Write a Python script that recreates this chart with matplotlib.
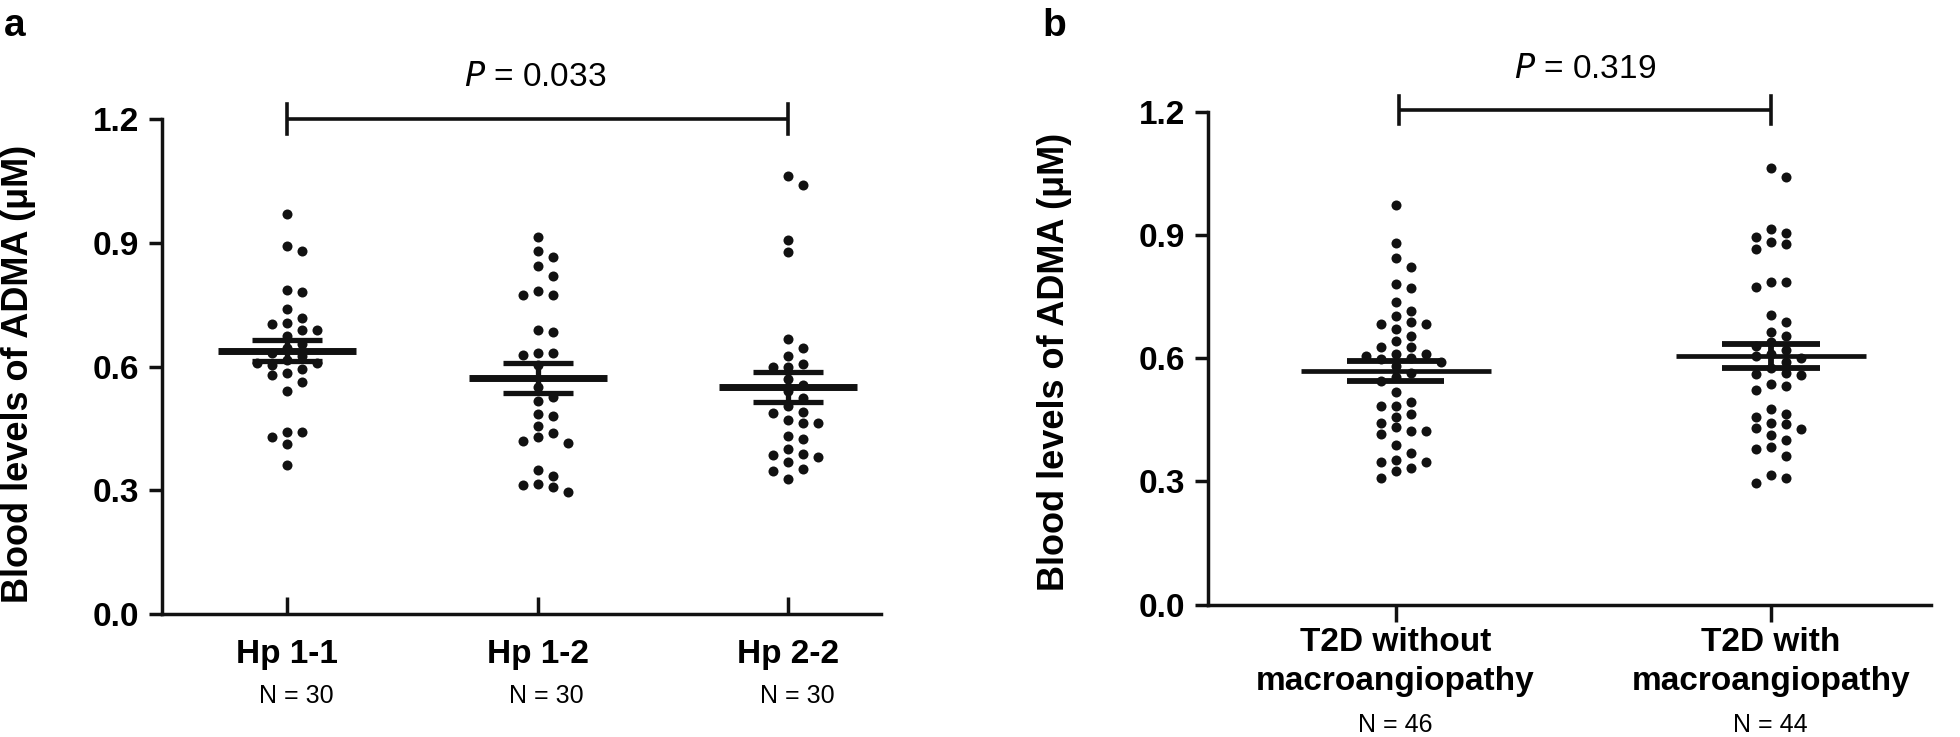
import numpy as np
import matplotlib
matplotlib.use('Agg')
import matplotlib.pyplot as plt

plt.rcParams['font.family'] = ['Liberation Sans', 'DejaVu Sans']

# ---- data ----
hp_groups = ['Hp 1-1', 'Hp 1-2', 'Hp 2-2']
hp_n = ['N = 30', 'N = 30', 'N = 30']
hp11 = [0.971, 0.893, 0.880, 0.786, 0.780, 0.739, 0.717, 0.706, 0.703, 0.689,
        0.689, 0.675, 0.655, 0.645, 0.632, 0.625, 0.615, 0.610, 0.608, 0.605,
        0.595, 0.585, 0.580, 0.563, 0.540, 0.442, 0.442, 0.429, 0.413, 0.362]
hp12 = [0.914, 0.881, 0.867, 0.843, 0.821, 0.784, 0.773, 0.773, 0.689, 0.685,
        0.633, 0.633, 0.628, 0.605, 0.550, 0.526, 0.516, 0.484, 0.481, 0.457,
        0.439, 0.429, 0.419, 0.416, 0.349, 0.334, 0.316, 0.312, 0.308, 0.295]
hp22 = [1.062, 1.040, 0.907, 0.878, 0.667, 0.646, 0.627, 0.607, 0.598, 0.598,
        0.570, 0.555, 0.542, 0.525, 0.505, 0.491, 0.488, 0.470, 0.464, 0.464,
        0.431, 0.425, 0.401, 0.388, 0.386, 0.380, 0.368, 0.351, 0.347, 0.327]
p_hp = '0.033'

t2d_groups = ['T2D without\nmacroangiopathy', 'T2D with\nmacroangiopathy']
t2d_n = ['N = 46', 'N = 44']
t2d_without = [0.973, 0.881, 0.845, 0.823, 0.780, 0.772, 0.738, 0.715, 0.702, 0.689,
               0.684, 0.684, 0.671, 0.654, 0.643, 0.628, 0.628, 0.610, 0.610, 0.605,
               0.600, 0.598, 0.590, 0.580, 0.565, 0.555, 0.545, 0.517, 0.493, 0.484,
               0.484, 0.463, 0.457, 0.443, 0.432, 0.422, 0.422, 0.415, 0.389, 0.370,
               0.352, 0.347, 0.347, 0.332, 0.326, 0.308]
t2d_with = [1.063, 1.041, 0.915, 0.906, 0.896, 0.883, 0.877, 0.867, 0.786, 0.786,
            0.773, 0.706, 0.689, 0.665, 0.654, 0.640, 0.630, 0.620, 0.610, 0.605,
            0.600, 0.590, 0.575, 0.565, 0.562, 0.558, 0.538, 0.532, 0.522, 0.477,
            0.465, 0.457, 0.441, 0.439, 0.430, 0.428, 0.413, 0.400, 0.384, 0.378,
            0.363, 0.315, 0.309, 0.295]
p_t2d = '0.319'

yticks = [0.0, 0.3, 0.6, 0.9, 1.2]
INK = '#111111'


def swarm_columns(values, ax, min_gap_px=10):
    """Grid-based swarm: each point goes to the nearest free column."""
    bbox = ax.get_window_extent()
    y0, y1 = ax.get_ylim()
    px_per_unit = bbox.height / (y1 - y0)
    candidates = [0]
    for j in range(1, 20):
        candidates += [j, -j]
    placed = []
    cols = np.zeros(len(values))
    for i in np.argsort(values)[::-1]:
        ypx = values[i] * px_per_unit
        for c in candidates:
            if all(not (pc == c and abs(py - ypx) < min_gap_px) for pc, py in placed):
                break
        placed.append((c, ypx))
        cols[i] = c
    return cols


def style_axes(ax, xin):
    for s in ['top', 'right']:
        ax.spines[s].set_visible(False)
    for s in ['left', 'bottom']:
        ax.spines[s].set_linewidth(2.5)
        ax.spines[s].set_color(INK)
    ax.set_ylim(0, 1.2)
    ax.set_yticks(yticks)
    ax.set_yticklabels([f'{v:.1f}' for v in yticks], fontsize=24, fontweight='bold')
    ax.tick_params(axis='y', direction='out', length=9.5, width=2.5, pad=7, color=INK)
    ax.tick_params(axis='x', direction='in' if xin else 'out', length=12, width=2.5,
                   color=INK, labelbottom=False)


def draw_group(ax, x, values, step_px, mean_hw, cap_hw, mean_lw, cap_lw):
    v = np.asarray(values)
    cols = swarm_columns(v, ax)
    bbox = ax.get_window_extent()
    xl = ax.get_xlim()
    step = step_px * (xl[1] - xl[0]) / bbox.width
    ax.scatter(x + cols * step, v, s=52, color=INK, linewidths=0, zorder=3, clip_on=False)
    m = v.mean()
    sem = v.std(ddof=1) / np.sqrt(len(v))
    ax.hlines(m, x - mean_hw, x + mean_hw, color=INK, lw=mean_lw, zorder=4)
    ax.hlines([m - sem, m + sem], x - cap_hw, x + cap_hw, color=INK, lw=cap_lw, zorder=4)
    ax.vlines(x, m - sem, m + sem, color=INK, lw=cap_lw, zorder=4)


def bracket(ax, x0, x1, y, h):
    ax.plot([x0, x1], [y, y], color=INK, lw=2.6, clip_on=False, solid_capstyle='butt')
    for xx in (x0, x1):
        ax.plot([xx, xx], [y - h, y + h], color=INK, lw=2.6, clip_on=False)


fig = plt.figure(figsize=(19.6, 7.37), dpi=100)

# ---- panel a ----
ax1 = fig.add_axes([162 / 1960, 123 / 737, 719 / 1960, 494.7 / 737])
ax1.set_xlim(-0.5, 2.37)
style_axes(ax1, xin=True)
ax1.set_xticks(range(len(hp_groups)))
for i, vals in enumerate([hp11, hp12, hp22]):
    draw_group(ax1, i, vals, 15, 0.275, 0.14, 5.0, 3.8)
    ax1.text(i, -0.081, hp_groups[i], transform=ax1.get_xaxis_transform(),
             ha='center', va='center', fontsize=24, fontweight='bold')
    ax1.text(i + 0.035, -0.166, hp_n[i], transform=ax1.get_xaxis_transform(),
             ha='center', va='center', fontsize=18)
bracket(ax1, 0, 2, 1.2, 0.036)
fig.text(535 / 1960, 1 - 77 / 737, r'$\it{P}$ = ' + p_hp, ha='center', va='center',
         fontsize=24)

# ---- panel b ----
ax2 = fig.add_axes([1208 / 1960, 132.4 / 737, 723 / 1960, 492.8 / 737])
ax2.set_xlim(-0.5, 1.427)
style_axes(ax2, xin=False)
ax2.set_xticks(range(len(t2d_groups)))
for i, vals in enumerate([t2d_without, t2d_with]):
    draw_group(ax2, i, vals, 15, 0.253, 0.13, 3.4, 4.2)
    ax2.text(i, -0.1165, t2d_groups[i], transform=ax2.get_xaxis_transform(),
             ha='center', va='center', fontsize=24, fontweight='bold', linespacing=1.35)
    ax2.text(i, -0.244, t2d_n[i], transform=ax2.get_xaxis_transform(),
             ha='center', va='center', fontsize=18)
bracket(ax2, 0.01, 1.0, 1.205, 0.034)
fig.text(1585 / 1960, 1 - 69 / 737, r'$\it{P}$ = ' + p_t2d, ha='center', va='center',
         fontsize=24)

# ---- y labels and panel letters ----
ylab = 'Blood levels of ADMA (\u03bcM)'
fig.text(19 / 1960, 1 - 374 / 737, ylab, rotation=90, ha='center', va='center',
         fontsize=26, fontweight='bold')
fig.text(1054 / 1960, 1 - 362 / 737, ylab, rotation=90, ha='center', va='center',
         fontsize=26, fontweight='bold')
fig.text(4 / 1960, 1 - 36 / 737, 'a', ha='left', va='baseline', fontsize=28,
         fontweight='bold')
fig.text(1042 / 1960, 1 - 36 / 737, 'b', ha='left', va='baseline', fontsize=28,
         fontweight='bold')

fig.savefig('out.png', dpi=100)
